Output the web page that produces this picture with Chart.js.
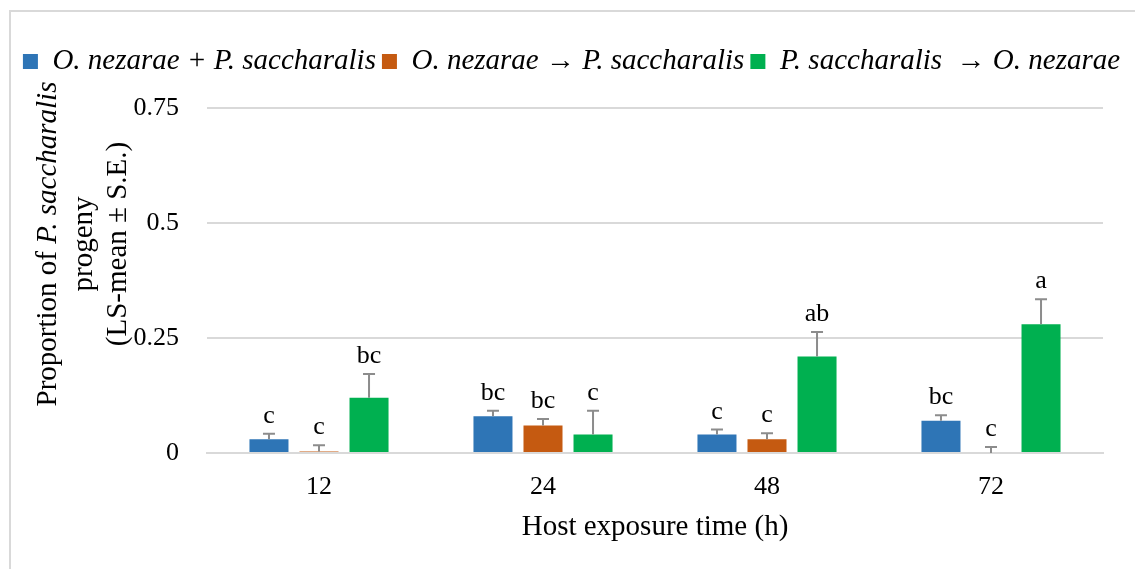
<!DOCTYPE html>
<html>
<head>
<meta charset="utf-8">
<script src="https://cdn.jsdelivr.net/npm/chart.js@4"></script>
<style>
  html, body { margin: 0; padding: 0; background: #fff; }
  #wrap { width: 1135px; height: 569px; }
</style>
</head>
<body>
<div id="wrap"><canvas id="progenyChart" width="1135" height="569"></canvas></div>
<script>
var hours = ['12', '24', '48', '72'];
var seriesNames = ['O. nezarae + P. saccharalis', 'O. nezarae \u2192 P. saccharalis', 'P. saccharalis  \u2192 O. nezarae'];
var together = [0.03, 0.08, 0.04, 0.07];
var togetherSE = [0.012, 0.012, 0.011, 0.012];
var nezaraeFirst = [0.003, 0.06, 0.03, 0.0];
var nezaraeFirstSE = [0.014, 0.014, 0.013, 0.013];
var saccharalisFirst = [0.12, 0.04, 0.21, 0.28];
var saccharalisFirstSE = [0.052, 0.052, 0.053, 0.054];
var letters = [
    ['c', 'bc', 'c', 'bc'],
    ['c', 'bc', 'c', 'c'],
    ['bc', 'c', 'ab', 'a']
];
var yTicks = [0, 0.25, 0.5, 0.75];

var serif = "'Liberation Serif', 'Times New Roman', serif";
var errors = [togetherSE, nezaraeFirstSE, saccharalisFirstSE];

// more room under the legend
var legendGap = {
    id: 'legendGap',
    beforeInit: function (chart) {
        var fit = chart.legend.fit;
        chart.legend.fit = function () {
            fit.bind(chart.legend)();
            this.height += 22;
        };
    }
};

// frame, y title, error bars and letters
var extras = {
    id: 'extras',
    beforeDraw: function (chart) {
        var ctx = chart.ctx;
        ctx.save();
        ctx.strokeStyle = '#d9d9d9';
        ctx.lineWidth = 2;
        ctx.beginPath();
        ctx.moveTo(10, 569);
        ctx.lineTo(10, 11);
        ctx.lineTo(1135, 11);
        ctx.stroke();
        ctx.restore();
    },
    afterDatasetsDraw: function (chart) {
        var ctx = chart.ctx;
        var y = chart.scales.y;
        ctx.save();
        chart.data.datasets.forEach(function (ds, i) {
            var meta = chart.getDatasetMeta(i);
            meta.data.forEach(function (bar, j) {
                var top = y.getPixelForValue(ds.data[j] + errors[i][j]);
                var base = y.getPixelForValue(ds.data[j]);
                ctx.strokeStyle = '#8c8c8c';
                ctx.lineWidth = 2;
                ctx.beginPath();
                ctx.moveTo(bar.x, base);
                ctx.lineTo(bar.x, top);
                ctx.moveTo(bar.x - 6, top);
                ctx.lineTo(bar.x + 6, top);
                ctx.stroke();
                ctx.fillStyle = '#000';
                ctx.font = '26px ' + serif;
                ctx.textAlign = 'center';
                ctx.textBaseline = 'alphabetic';
                ctx.fillText(letters[i][j], bar.x, top - 11);
            });
        });

        // y axis title, three lines with italic species name
        var cy = 244;
        var lines = [
            [{t: 'Proportion of ', i: false}, {t: 'P. saccharalis', i: true}],
            [{t: 'progeny', i: false}],
            [{t: '(LS-mean \u00b1 S.E.)', i: false}]
        ];
        var xs = [48, 84, 118];
        lines.forEach(function (parts, k) {
            var w = 0;
            parts.forEach(function (p) {
                ctx.font = (p.i ? 'italic ' : '') + '29px ' + serif;
                p.w = ctx.measureText(p.t).width;
                w += p.w;
            });
            ctx.save();
            ctx.translate(xs[k], cy);
            ctx.rotate(-Math.PI / 2);
            ctx.fillStyle = '#000';
            ctx.textBaseline = 'middle';
            ctx.textAlign = 'left';
            var x = -w / 2;
            parts.forEach(function (p) {
                ctx.font = (p.i ? 'italic ' : '') + '29px ' + serif;
                ctx.fillText(p.t, x, 0);
                x += p.w;
            });
            ctx.restore();
        });
        ctx.restore();
    }
};

var progenyChart = new Chart(document.getElementById('progenyChart').getContext('2d'), {
    type: 'bar',
    data: {
        labels: hours,
        datasets: [{
            label: seriesNames[0],
            data: together,
            backgroundColor: '#2e75b6'
        }, {
            label: seriesNames[1],
            data: nezaraeFirst,
            backgroundColor: '#c55a11'
        }, {
            label: seriesNames[2],
            data: saccharalisFirst,
            backgroundColor: '#00b050'
        }]
    },
    options: {
        responsive: false,
        animation: false,
        layout: { padding: { top: 41, right: 0, left: 8, bottom: 0 } },
        datasets: {
            bar: { categoryPercentage: 0.67, barPercentage: 0.78 }
        },
        plugins: {
            legend: {
                position: 'top',
                labels: {
                    boxWidth: 15,
                    boxHeight: 15,
                    padding: 6,
                    color: '#000',
                    font: { family: serif, size: 29, style: 'italic' }
                }
            },
            tooltip: { enabled: false }
        },
        scales: {
            x: {
                grid: { display: false },
                border: { color: '#d9d9d9', width: 2 },
                ticks: { color: '#000', padding: 11, font: { family: serif, size: 26 } },
                title: {
                    display: true,
                    text: 'Host exposure time (h)',
                    color: '#000',
                    font: { family: serif, size: 29 },
                    padding: { top: 0, bottom: 24 }
                },
                afterFit: function (scale) { scale.height = 116; }
            },
            y: {
                min: 0,
                max: 0.75,
                afterBuildTicks: function (scale) {
                    scale.ticks = yTicks.map(function (v) { return { value: v }; });
                },
                grid: { color: '#d9d9d9', lineWidth: 2, drawTicks: false },
                border: { display: false },
                ticks: {
                    color: '#000',
                    padding: 28,
                    font: { family: serif, size: 26 },
                    callback: function (v) { return String(v); }
                },
                afterFit: function (scale) { scale.width = 199; }
            },
            // empty axis on the right, keeps the plot clear of the edge
            yRight: {
                position: 'right',
                display: true,
                grid: { display: false },
                border: { display: false },
                ticks: { display: false },
                afterFit: function (scale) { scale.width = 32; }
            }
        }
    },
    plugins: [extras, legendGap]
});
</script>
</body>
</html>
